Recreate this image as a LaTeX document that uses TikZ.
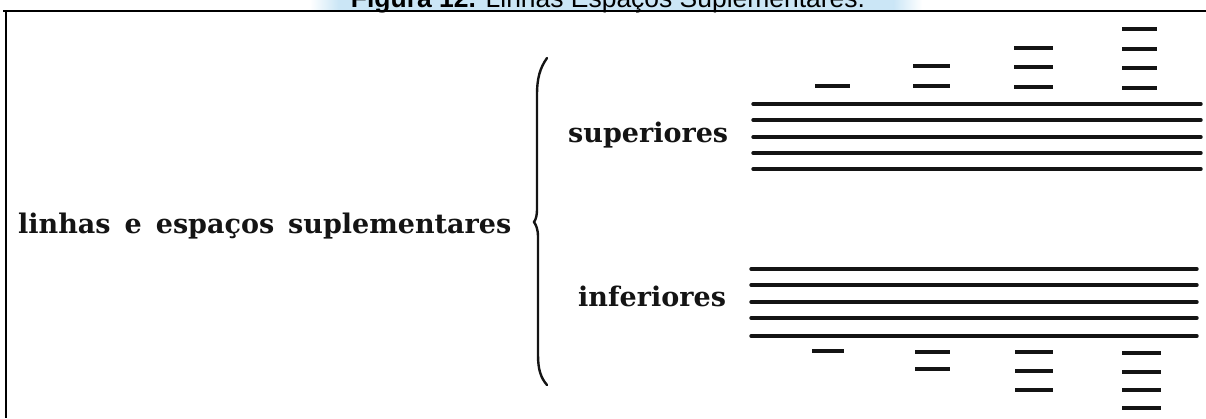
\documentclass[tikz,border=0pt]{standalone}
\usepackage{graphicx}
\usepackage{fontspec}
\setmainfont{DejaVu Serif}
\newfontfamily\titlefont{Liberation Sans}
\definecolor{bandblue}{RGB}{203,230,246}
\definecolor{inkblack}{RGB}{20,20,20}
\begin{document}
\begin{tikzpicture}[x=1pt,y=-1pt,
  labeltext/.style={anchor=base west, inner sep=0pt, text=inkblack,
    font=\bfseries\fontsize{27}{30}\selectfont},
  staffline/.style={draw=inkblack, line width=3.4pt, line cap=round},
  ledger/.style={draw=inkblack, line width=3.6pt},
  bracestroke/.style={draw=inkblack, line width=2.4pt, line cap=round},
  frameline/.style={draw=black, line width=2pt}]
\useasboundingbox (0,0) rectangle (1206,418);
% title band
\fill[bandblue] (338,-30) rectangle (894,9.5);
\shade[left color=white, right color=bandblue] (310,-30) rectangle (338.5,9.5);
\shade[left color=bandblue, right color=white] (893.5,-30) rectangle (922,9.5);
\node[anchor=base, inner sep=0pt] (title) at (608,7)
  {\resizebox{514pt}{!}{\titlefont\textbf{Figura 12.} Linhas Espaços Suplementares.}};
% frame
\draw[frameline] (3,10.5) -- (1206,10.5);
\draw[frameline] (6,10.5) -- (6,418);
% labels
\node[labeltext] (main) at (18,233) {\spaceskip=14pt linhas e espaços suplementares};
\node[labeltext] (sup) at (568,142) {superiores};
\node[labeltext] (inf) at (578,306) {inferiores};
% brace
\draw[bracestroke] (547,58) .. controls (540,68) and (537,78) .. (537,95)
  -- (537,208) .. controls (537,216) and (536,219) .. (534,222)
  .. controls (536,225) and (538,229) .. (538,237)
  -- (538,355) .. controls (538,370) and (541,378) .. (547,385);
% upper staff
\foreach \y in {104,120,137,153,169}
  \draw[staffline] (753,\y) -- (1201,\y);
\draw[ledger] (815,86) -- (850,86);
\foreach \y in {66,86} \draw[ledger] (913,\y) -- (950,\y);
\foreach \y in {48,67,87} \draw[ledger] (1014,\y) -- (1053,\y);
\foreach \y in {29,49,68,88} \draw[ledger] (1122,\y) -- (1157,\y);
% lower staff
\foreach \y in {269,285,302,318,336}
  \draw[staffline] (751,\y) -- (1197,\y);
\draw[ledger] (812,351) -- (844,351);
\foreach \y in {352,369} \draw[ledger] (915,\y) -- (950,\y);
\foreach \y in {352,371,390} \draw[ledger] (1015,\y) -- (1053,\y);
\foreach \y in {353,372,390,408} \draw[ledger] (1122,\y) -- (1161,\y);
\end{tikzpicture}
\end{document}
